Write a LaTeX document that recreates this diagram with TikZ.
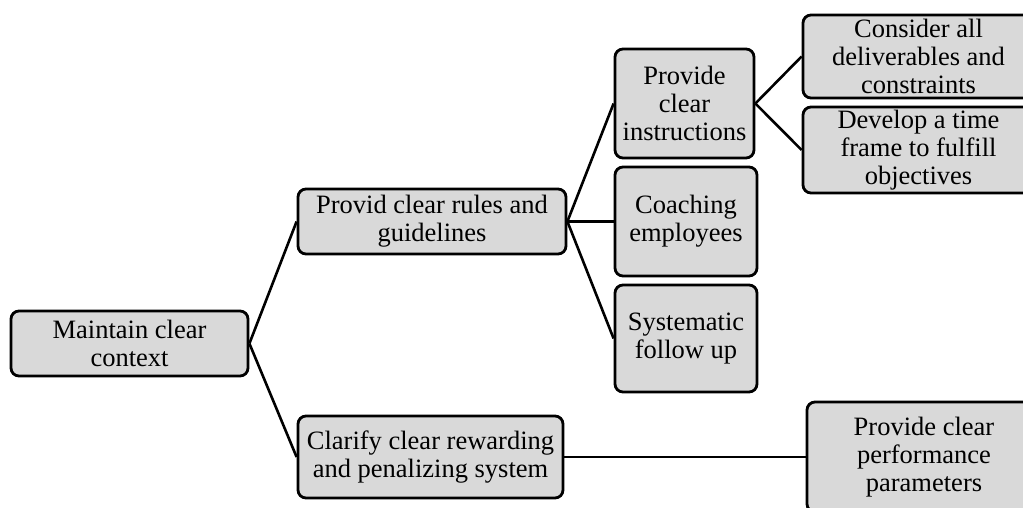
\documentclass[tikz,border=0pt]{standalone}
\usepackage{fontspec}
\setmainfont{Liberation Serif}
\begin{document}
\begin{tikzpicture}[x=1pt,y=-1pt,
  box/.style={draw=black,line width=2.8pt,rounded corners=8pt,fill=boxgray,
    align=center,inner sep=0pt,font=\fontsize{26.5}{28}\selectfont},
  link/.style={line width=2.6pt}]
\definecolor{boxgray}{HTML}{D9D9D9}
\useasboundingbox (0,0) rectangle (1023,507);
\clip (0,0) rectangle (1023,507);
% level 1
\node[box,minimum width=237pt,minimum height=65pt] (root) at (129.5,343.5) {Maintain clear\\context};
% level 2
\node[box,minimum width=268pt,minimum height=65pt] (rules) at (432,221.5) {Provid clear rules and\\guidelines};
\node[box,minimum width=265pt,minimum height=82pt] (reward) at (430.5,457) {Clarify clear rewarding\\and penalizing system};
% level 3
\node[box,minimum width=139pt,minimum height=109pt] (instr) at (684.5,103.5) {Provide\\clear\\instructions};
\node[box,minimum width=142pt,minimum height=109pt] (coach) at (686,221.5) {Coaching\\employees};
\node[box,minimum width=142pt,minimum height=107pt] (follow) at (686,338.5) {Systematic\\follow up};
% level 4
\node[box,minimum width=231pt,minimum height=83pt] (deliv) at (918.5,56.5) {Consider all\\deliverables and\\constraints};
\node[box,minimum width=231pt,minimum height=86pt] (frame) at (918.5,150) {Develop a time\\frame to fulfill\\objectives};
\node[box,minimum width=234pt,minimum height=110pt] (perf) at (924,457) {Provide clear\\performance\\parameters};
% connectors
\draw[link] (root.east) -- (rules.west);
\draw[link] (root.east) -- (reward.west);
\draw[link] (rules.east) -- (instr.west);
\draw[link] (rules.east) -- (coach.west);
\draw[link] (rules.east) -- (follow.west);
\draw[link] (instr.east) -- (deliv.west);
\draw[link] (instr.east) -- (frame.west);
\draw[link] (reward.east) -- (perf.west);
\end{tikzpicture}
\end{document}
